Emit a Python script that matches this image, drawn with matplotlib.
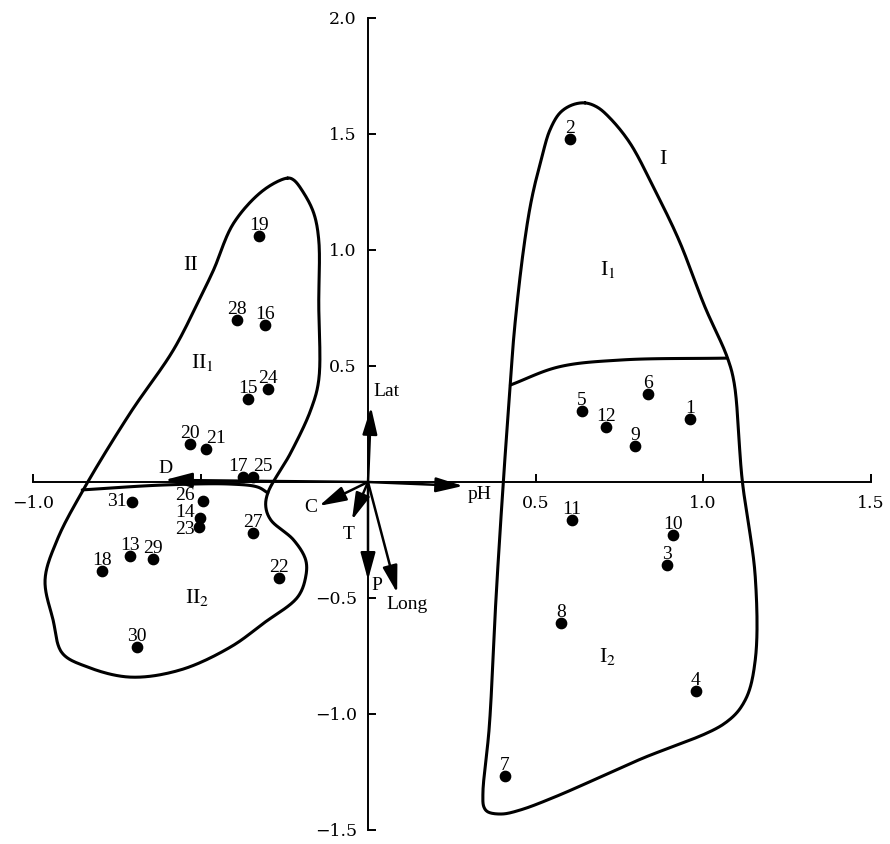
import numpy as np
import matplotlib
matplotlib.use('Agg')
import matplotlib.pyplot as plt

plt.rcParams['font.family'] = ['Liberation Serif', 'DejaVu Serif']
plt.rcParams['mathtext.fontset'] = 'stix'

# sample scores
site_ids = list(range(1, 32))
site_x = [0.961, 0.603, 0.893, 0.979, 0.639, 0.836, 0.409, 0.576, 0.797, 0.910,
          0.609, 0.710, -0.710, -0.502, -0.359, -0.307, -0.372, -0.794, -0.325, -0.531,
          -0.483, -0.266, -0.504, -0.298, -0.344, -0.493, -0.343, -0.391, -0.642, -0.690,
          -0.705]
site_y = [0.272, 1.478, -0.358, -0.901, 0.306, 0.379, -1.267, -0.608, 0.155, -0.228,
          -0.164, 0.237, -0.319, -0.154, 0.356, 0.677, 0.020, -0.384, 1.060, 0.164,
          0.141, -0.414, -0.195, 0.401, 0.022, -0.082, -0.220, 0.698, -0.332, -0.711,
          -0.085]

# environmental vectors
env_names = ['Lat', 'pH', 'C', 'T', 'P', 'Long', 'D']
env_x = [0.009, 0.284, -0.146, -0.048, 0.000, 0.087, -0.606]
env_y = [0.323, -0.017, -0.103, -0.164, -0.422, -0.478, 0.009]

# group outlines (hand traced)
group1 = [(0.648, 1.634), (0.609, 1.625), (0.573, 1.591), (0.543, 1.517), (0.519, 1.401),
          (0.488, 1.216), (0.464, 1.000), (0.437, 0.655), (0.425, 0.427), (0.407, 0.065),
          (0.383, -0.478), (0.362, -1.056), (0.343, -1.341), (0.346, -1.401), (0.358, -1.422),
          (0.400, -1.431), (0.454, -1.414), (0.557, -1.358), (0.808, -1.198), (1.066, -1.039),
          (1.126, -0.940), (1.156, -0.767), (1.156, -0.409), (1.117, 0.009), (1.093, 0.427),
          (1.072, 0.539), (1.006, 0.754), (0.928, 1.043), (0.856, 1.259), (0.782, 1.461),
          (0.722, 1.569), (0.684, 1.616)]
split1 = [(0.425, 0.418), (0.569, 0.496), (0.757, 0.526), (1.072, 0.534)]

group2 = [(-0.240, 1.310), (-0.311, 1.259), (-0.401, 1.116), (-0.461, 0.914), (-0.500, 0.797),
          (-0.581, 0.569), (-0.710, 0.297), (-0.850, -0.034), (-0.928, -0.250), (-0.964, -0.422),
          (-0.940, -0.595), (-0.913, -0.737), (-0.838, -0.797), (-0.710, -0.841), (-0.560, -0.810),
          (-0.410, -0.711), (-0.311, -0.608), (-0.210, -0.496), (-0.186, -0.409), (-0.186, -0.336),
          (-0.222, -0.250), (-0.290, -0.164), (-0.305, -0.108), (-0.299, -0.047), (-0.231, 0.125),
          (-0.171, 0.310), (-0.147, 0.440), (-0.147, 0.772), (-0.147, 1.043), (-0.162, 1.159),
          (-0.192, 1.246), (-0.222, 1.302)]
split2 = [(-0.853, -0.034), (-0.611, -0.013), (-0.410, -0.009), (-0.329, -0.022), (-0.299, -0.047)]

group_names = ['I', r'I$_1$', r'I$_2$', 'II', r'II$_1$', r'II$_2$']
group_x = [0.880, 0.716, 0.716, -0.530, -0.494, -0.509]
group_y = [1.388, 0.914, -0.754, 0.935, 0.517, -0.496]

xticks = [-1.0, -0.5, 0.5, 1.0, 1.5]
xticklabels = ['\u22121.0', '', '0.5', '1.0', '1.5']
yticks = [-1.5, -1.0, -0.5, 0.5, 1.0, 1.5, 2.0]
yticklabels = ['\u22121.5', '\u22121.0', '\u22120.5', '0.5', '1.0', '1.5', '2.0']

ASPECT = 335 / 232  # px per unit x / px per unit y


def _seg(p0, p1, p2, p3, n):
    # centripetal catmull-rom
    def nxt(ti, a, b):
        return ti + max(np.linalg.norm(b - a), 1e-9) ** 0.5
    t0 = 0.0
    t1 = nxt(t0, p0, p1)
    t2 = nxt(t1, p1, p2)
    t3 = nxt(t2, p2, p3)
    t = np.linspace(t1, t2, n, endpoint=False)[:, None]
    a1 = (t1 - t) / (t1 - t0) * p0 + (t - t0) / (t1 - t0) * p1
    a2 = (t2 - t) / (t2 - t1) * p1 + (t - t1) / (t2 - t1) * p2
    a3 = (t3 - t) / (t3 - t2) * p2 + (t - t2) / (t3 - t2) * p3
    b1 = (t2 - t) / (t2 - t0) * a1 + (t - t0) / (t2 - t0) * a2
    b2 = (t3 - t) / (t3 - t1) * a2 + (t - t1) / (t3 - t1) * a3
    return (t2 - t) / (t2 - t1) * b1 + (t - t1) / (t2 - t1) * b2


def smooth(pts, closed=True, n=20):
    p = np.asarray(pts, float) * [ASPECT, 1]
    if closed:
        p = np.vstack([p[-1], p, p[0], p[1]])
    else:
        p = np.vstack([2 * p[0] - p[1], p, 2 * p[-1] - p[-2]])
    out = [_seg(p[i - 1], p[i], p[i + 1], p[i + 2], n) for i in range(1, len(p) - 2)]
    out.append(p[-2][None])
    return np.vstack(out) / [ASPECT, 1]


fig = plt.figure(figsize=(8.9, 8.44), dpi=100)
ax = fig.add_axes([33 / 890, 1 - 830 / 844, 837.5 / 890, 812 / 844])
ax.set_xlim(-1.0, 1.5)
ax.set_ylim(-1.5, 2.0)

for s in ['top', 'right']:
    ax.spines[s].set_visible(False)
ax.spines['left'].set_position(('data', 0))
ax.spines['bottom'].set_position(('data', 0))
for s in ['left', 'bottom']:
    ax.spines[s].set_linewidth(1.4)
ax.tick_params(direction='in', length=6, width=1.4, labelsize=12.5)
ax.tick_params(axis='y', pad=8)
ax.tick_params(axis='x', pad=9)
ax.set_xticks(xticks)
ax.set_xticklabels(xticklabels, family='DejaVu Serif')
ax.set_yticks(yticks)
ax.set_yticklabels(yticklabels, family='DejaVu Serif')

# outlines
for pts, closed in [(group1, True), (split1, False), (group2, True), (split2, False)]:
    c = smooth(pts, closed)
    ax.plot(c[:, 0], c[:, 1], color='black', lw=2.2, solid_capstyle='round')

# points
ax.scatter(site_x, site_y, s=55, color='black', zorder=4)

label_pos = {
    17: (-4, 4.5, 'center', 'baseline'), 25: (7, 4.5, 'center', 'baseline'),
    21: (7, 4.5, 'center', 'baseline'),
    31: (-4, 0.5, 'right', 'center'), 26: (-5.5, 4, 'right', 'center'),
    14: (-3.4, 3.5, 'right', 'center'), 23: (-3, -1.5, 'right', 'center'),
}
for i, x, y in zip(site_ids, site_x, site_y):
    dx, dy, ha, va = label_pos.get(i, (0, 4.5, 'center', 'baseline'))
    ax.annotate(str(i), (x, y), xytext=(dx, dy), textcoords='offset points',
                ha=ha, va=va, fontsize=14)

# vectors
for name, x, y in zip(env_names, env_x, env_y):
    ax.annotate('', xy=(x, y), xytext=(0, 0),
                arrowprops=dict(arrowstyle='-|>,head_length=1.1,head_width=0.3',
                                mutation_scale=15, lw=1.8, color='black',
                                shrinkA=0, shrinkB=0), zorder=5)

env_lab = {'Lat': (0.015, 0.388, 'left'), 'pH': (0.296, -0.056, 'left'),
           'C': (-0.171, -0.112, 'center'), 'T': (-0.057, -0.228, 'center'),
           'P': (0.009, -0.448, 'left'), 'Long': (0.054, -0.530, 'left'),
           'D': (-0.605, 0.060, 'center')}
for name in env_names:
    lx, ly, ha = env_lab[name]
    ax.text(lx, ly, name, ha=ha, va='center', fontsize=14)

for name, x, y in zip(group_names, group_x, group_y):
    ax.text(x, y, name, ha='center', va='center', fontsize=16)

fig.savefig('out.png', dpi=100)
